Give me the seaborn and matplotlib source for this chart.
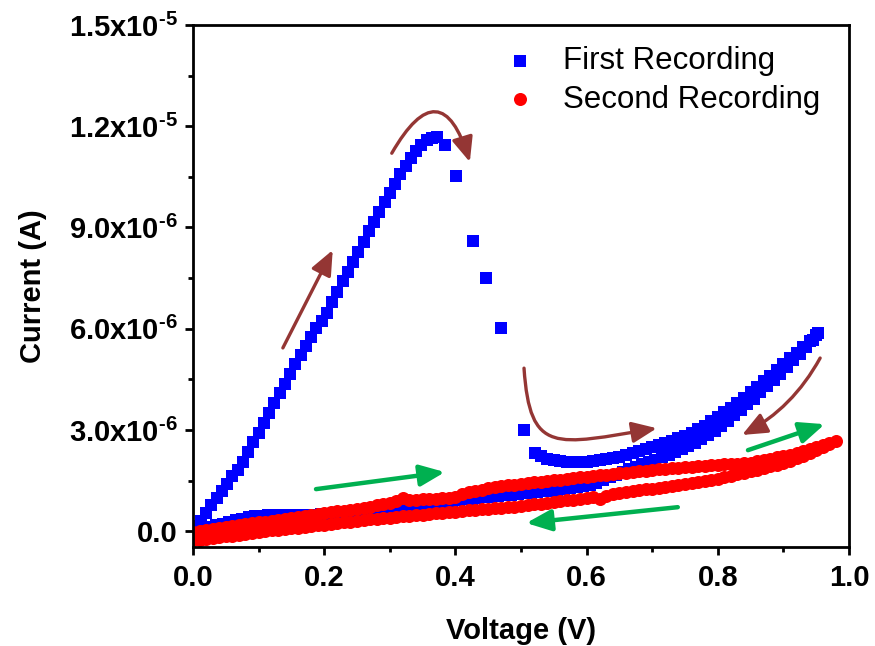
import numpy as np
import matplotlib
matplotlib.use("Agg")
import matplotlib.pyplot as plt
from matplotlib.ticker import MultipleLocator, FuncFormatter
from matplotlib.patches import FancyArrowPatch
from matplotlib.path import Path
import seaborn as sns

# ---------------- data (voltage in V, current in µA) ----------------
# First recording: forward sweep 0 -> 0.953 V, then reverse sweep back to 0 V
first_v = [
    0.004, 0.012, 0.020, 0.028, 0.036, 0.044, 0.052, 0.060, 0.068, 0.076,
    0.084, 0.092, 0.100, 0.108, 0.116, 0.124, 0.132, 0.140, 0.148, 0.156,
    0.164, 0.172, 0.180, 0.188, 0.196, 0.204, 0.212, 0.220, 0.228, 0.236,
    0.244, 0.252, 0.260, 0.268, 0.276, 0.284, 0.292, 0.300, 0.308, 0.316,
    0.324, 0.332, 0.340, 0.348, 0.356, 0.364, 0.372, 0.384, 0.401, 0.427,
    0.447, 0.469, 0.505, 0.521,
    0.530, 0.540, 0.550, 0.560, 0.570, 0.580, 0.590, 0.600, 0.610, 0.620,
    0.630, 0.640, 0.650, 0.660, 0.670, 0.680, 0.690, 0.700, 0.710, 0.720,
    0.730, 0.740, 0.750, 0.760, 0.770, 0.780, 0.790, 0.800, 0.810, 0.820,
    0.830, 0.840, 0.850, 0.860, 0.870, 0.880, 0.890, 0.900, 0.910, 0.920,
    0.930, 0.940, 0.950, 0.953,
    0.945, 0.935, 0.925, 0.915, 0.905, 0.895, 0.885, 0.875, 0.865, 0.855,
    0.845, 0.835, 0.825, 0.815, 0.805, 0.795, 0.785, 0.775, 0.765, 0.755,
    0.745, 0.735, 0.725, 0.715, 0.705, 0.695, 0.685, 0.675, 0.665, 0.655,
    0.645, 0.635, 0.625, 0.615, 0.605, 0.595, 0.585, 0.575, 0.565, 0.555,
    0.545, 0.535, 0.525, 0.515, 0.505, 0.495, 0.485, 0.475, 0.465, 0.455,
    0.445, 0.435, 0.425, 0.415, 0.405, 0.395, 0.385, 0.375, 0.365, 0.355,
    0.345, 0.335, 0.325, 0.315, 0.305, 0.295, 0.285, 0.275, 0.265, 0.255,
    0.245, 0.235, 0.225, 0.215, 0.205, 0.195, 0.185, 0.175, 0.165, 0.155,
    0.145, 0.135, 0.125, 0.115, 0.105, 0.095, 0.085, 0.075, 0.065, 0.055,
    0.045, 0.035, 0.025, 0.015, 0.005,
]
first_i = [
    0.14, 0.30, 0.55, 0.78, 0.97, 1.18, 1.41, 1.62, 1.80, 2.06,
    2.34, 2.63, 2.92, 3.21, 3.50, 3.79, 4.08, 4.37, 4.66, 4.94,
    5.22, 5.48, 5.76, 6.01, 6.24, 6.47, 6.78, 7.10, 7.40, 7.69,
    7.97, 8.27, 8.58, 8.89, 9.17, 9.46, 9.75, 10.03, 10.30, 10.57,
    10.83, 11.07, 11.28, 11.45, 11.58, 11.66, 11.68, 11.44, 10.52, 8.60,
    7.50, 6.02, 3.00, 2.31,
    2.22, 2.15, 2.10, 2.07, 2.05, 2.04, 2.04, 2.05, 2.07, 2.10,
    2.13, 2.17, 2.21, 2.26, 2.31, 2.37, 2.43, 2.49, 2.55, 2.61,
    2.68, 2.75, 2.83, 2.92, 3.02, 3.13, 3.25, 3.38, 3.52, 3.66,
    3.81, 3.96, 4.12, 4.28, 4.44, 4.61, 4.78, 4.95, 5.12, 5.29,
    5.46, 5.63, 5.80, 5.87,
    5.66, 5.46, 5.26, 5.06, 4.86, 4.67, 4.48, 4.29, 4.11, 3.93,
    3.76, 3.59, 3.43, 3.27, 3.12, 2.98, 2.85, 2.73, 2.62, 2.52,
    2.43, 2.34, 2.26, 2.19, 2.12, 2.05, 1.98, 1.91, 1.83, 1.75,
    1.67, 1.59, 1.51, 1.44, 1.38, 1.33, 1.30, 1.27, 1.24, 1.22,
    1.20, 1.18, 1.16, 1.14, 1.12, 1.10, 1.08, 1.06, 1.04, 1.02,
    1.00, 0.98, 0.96, 0.94, 0.92, 0.89, 0.87, 0.85, 0.83, 0.81,
    0.78, 0.76, 0.74, 0.72, 0.70, 0.68, 0.66, 0.64, 0.62, 0.60,
    0.58, 0.56, 0.54, 0.53, 0.51, 0.50, 0.49, 0.48, 0.48, 0.48,
    0.48, 0.48, 0.48, 0.47, 0.46, 0.44, 0.41, 0.37, 0.32, 0.27,
    0.22, 0.17, 0.12, 0.07, 0.02,
]

# Second recording: forward sweep 0 -> 0.98 V, then reverse sweep back to 0 V
second_v = [
    0.00, 0.01, 0.02, 0.03, 0.04, 0.05, 0.06, 0.07, 0.08, 0.09,
    0.10, 0.11, 0.12, 0.13, 0.14, 0.15, 0.16, 0.17, 0.18, 0.19,
    0.20, 0.21, 0.22, 0.23, 0.24, 0.25, 0.26, 0.27, 0.28, 0.29,
    0.30, 0.31, 0.32, 0.33, 0.34, 0.35, 0.36, 0.37, 0.38, 0.39,
    0.40, 0.41, 0.42, 0.43, 0.44, 0.45, 0.46, 0.47, 0.48, 0.49,
    0.50, 0.51, 0.52, 0.53, 0.54, 0.55, 0.56, 0.57, 0.58, 0.59,
    0.60, 0.61, 0.62, 0.63, 0.64, 0.65, 0.66, 0.67, 0.68, 0.69,
    0.70, 0.71, 0.72, 0.73, 0.74, 0.75, 0.76, 0.77, 0.78, 0.79,
    0.80, 0.81, 0.82, 0.83, 0.84, 0.85, 0.86, 0.87, 0.88, 0.89,
    0.90, 0.91, 0.92, 0.93, 0.94, 0.95, 0.96, 0.97, 0.98,
    0.97, 0.96, 0.95, 0.94, 0.93, 0.92, 0.91, 0.90, 0.89, 0.88,
    0.87, 0.86, 0.85, 0.84, 0.83, 0.82, 0.81, 0.80, 0.79, 0.78,
    0.77, 0.76, 0.75, 0.74, 0.73, 0.72, 0.71, 0.70, 0.69, 0.68,
    0.67, 0.66, 0.65, 0.64, 0.63, 0.62, 0.61, 0.60, 0.59, 0.58,
    0.57, 0.56, 0.55, 0.54, 0.53, 0.52, 0.51, 0.50, 0.49, 0.48,
    0.47, 0.46, 0.45, 0.44, 0.43, 0.42, 0.41, 0.40, 0.39, 0.38,
    0.37, 0.36, 0.35, 0.34, 0.33, 0.32, 0.31, 0.30, 0.29, 0.28,
    0.27, 0.26, 0.25, 0.24, 0.23, 0.22, 0.21, 0.20, 0.19, 0.18,
    0.17, 0.16, 0.15, 0.14, 0.13, 0.12, 0.11, 0.10, 0.09, 0.08,
    0.07, 0.06, 0.05, 0.04, 0.03, 0.02, 0.01, 0.00,
]
second_i = [
    -0.02, 0.01, 0.03, 0.06, 0.09, 0.12, 0.14, 0.17, 0.20, 0.23,
    0.26, 0.28, 0.31, 0.34, 0.37, 0.40, 0.42, 0.45, 0.48, 0.50,
    0.53, 0.56, 0.59, 0.61, 0.64, 0.67, 0.70, 0.73, 0.76, 0.80,
    0.84, 0.89, 0.97, 0.93, 0.93, 0.94, 0.95, 0.96, 0.97, 0.99,
    1.02, 1.11, 1.15, 1.19, 1.23, 1.27, 1.30, 1.33, 1.36, 1.38,
    1.41, 1.43, 1.45, 1.47, 1.49, 1.51, 1.53, 1.55, 1.57, 1.59,
    1.61, 1.63, 1.65, 1.67, 1.69, 1.71, 1.73, 1.75, 1.77, 1.79,
    1.81, 1.83, 1.85, 1.86, 1.88, 1.89, 1.91, 1.92, 1.94, 1.95,
    1.96, 1.98, 1.99, 2.00, 2.02, 2.03, 2.07, 2.11, 2.15, 2.19,
    2.23, 2.27, 2.32, 2.37, 2.42, 2.48, 2.54, 2.61, 2.68,
    2.58, 2.48, 2.39, 2.31, 2.23, 2.16, 2.09, 2.03, 1.97, 1.92,
    1.87, 1.82, 1.77, 1.72, 1.68, 1.64, 1.60, 1.56, 1.53, 1.50,
    1.47, 1.44, 1.41, 1.38, 1.35, 1.32, 1.29, 1.26, 1.24, 1.21,
    1.18, 1.15, 1.12, 1.09, 1.05, 0.95, 1.00, 0.98, 0.96, 0.93,
    0.91, 0.88, 0.86, 0.84, 0.81, 0.79, 0.77, 0.75, 0.73, 0.72,
    0.70, 0.69, 0.67, 0.65, 0.63, 0.62, 0.60, 0.58, 0.56, 0.54,
    0.53, 0.51, 0.49, 0.47, 0.45, 0.44, 0.42, 0.40, 0.38, 0.36,
    0.35, 0.33, 0.31, 0.28, 0.26, 0.24, 0.21, 0.19, 0.17, 0.15,
    0.12, 0.10, 0.08, 0.06, 0.04, 0.02, -0.01, -0.03, -0.05, -0.08,
    -0.10, -0.13, -0.15, -0.17, -0.20, -0.22, -0.25, -0.27,
]

x_ticks = [0.0, 0.2, 0.4, 0.6, 0.8, 1.0]
y_ticks = [0.0, 3.0e-6, 6.0e-6, 9.0e-6, 1.2e-5, 1.5e-5]

BLUE = "#0000FF"
RED = "#FF0000"
BROWN = "#943634"
GREEN = "#00B050"

# ---------------- style ----------------
sns.set_style("ticks")
plt.rcParams["font.family"] = ["Liberation Sans", "DejaVu Sans"]
plt.rcParams["mathtext.fontset"] = "custom"
plt.rcParams["mathtext.rm"] = "Liberation Sans:bold"
plt.rcParams["mathtext.it"] = "Liberation Sans:bold"
plt.rcParams["mathtext.bf"] = "Liberation Sans:bold"
for key in ["text.color", "axes.labelcolor", "xtick.color", "ytick.color",
            "axes.edgecolor"]:
    plt.rcParams[key] = "black"

fig = plt.figure(figsize=(8.75, 6.46), dpi=100)
ax = fig.add_axes([193 / 875, 1 - 547 / 646, 656 / 875, 522 / 646])

sns.scatterplot(x=np.array(first_v), y=np.array(first_i) * 1e-6, marker="s",
                s=63, color=BLUE, linewidth=0, label="First Recording", ax=ax)
sns.scatterplot(x=np.array(second_v), y=np.array(second_i) * 1e-6, marker="o",
                s=88, color=RED, linewidth=0, label="Second Recording", ax=ax)

ax.set_xlim(0.0, 1.0)
ax.set_ylim(-0.47e-6, 1.5e-5)
ax.set_xticks(x_ticks)
ax.set_yticks(y_ticks)
ax.xaxis.set_minor_locator(MultipleLocator(0.1))
ax.yaxis.set_minor_locator(MultipleLocator(1.5e-6))


def sci_label(v, pos):
    if abs(v) < 1e-12:
        return "0.0"
    exp = int(np.floor(np.log10(abs(v)) + 1e-9))
    mant = v / 10.0 ** exp
    sign = "\u2010" if exp < 0 else ""
    return f"{mant:.1f}x10$^{{{sign}{abs(exp)}}}$"


ax.xaxis.set_major_formatter(FuncFormatter(lambda v, p: f"{v:.1f}"))
ax.yaxis.set_major_formatter(FuncFormatter(sci_label))

for side in ["left", "right", "top", "bottom"]:
    ax.spines[side].set_visible(True)
    ax.spines[side].set_linewidth(2.0)
    ax.spines[side].set_color("black")

ax.tick_params(axis="both", which="major", direction="out", length=6, width=2.0,
               labelsize=21, color="black", labelcolor="black")
ax.tick_params(axis="both", which="minor", direction="out", length=3.5, width=2.0,
               color="black")
ax.tick_params(axis="x", which="major", pad=6)
ax.tick_params(axis="y", which="major", pad=5)
for lab in ax.get_xticklabels() + ax.get_yticklabels():
    lab.set_fontweight("bold")

ax.set_xlabel("Voltage (V)", fontsize=21, fontweight="bold", labelpad=18,
              color="black")
ax.set_ylabel("Current (A)", fontsize=21, fontweight="bold", labelpad=16,
              color="black")

leg = ax.legend(loc="upper left", bbox_to_anchor=(0.474, 0.96), frameon=False,
                fontsize=22.5, handlelength=1.0, handletextpad=0.9,
                labelspacing=0.28, borderaxespad=0, borderpad=0)
for t in leg.get_texts():
    t.set_color("black")

# ---------------- sweep-direction arrows ----------------
def arrow(tail, head, color, lw, rad=0.0):
    ax.annotate("", xy=(head[0], head[1] * 1e-6), xytext=(tail[0], tail[1] * 1e-6),
                arrowprops=dict(arrowstyle="-|>,head_length=0.75,head_width=0.32",
                                color=color, lw=lw, shrinkA=0, shrinkB=0,
                                mutation_scale=20,
                                connectionstyle=f"arc3,rad={rad}"))


arrow((0.137, 5.43), (0.213, 8.33), BROWN, 2.4)
arrow((0.303, 11.2), (0.422, 10.94), BROWN, 2.4, rad=-1.15)
arrow((0.956, 5.13), (0.837, 2.85), BROWN, 2.4, rad=-0.15)

bend = Path([(0.5046, 4.83e-6), (0.5137, 2.25e-6), (0.552, 2.55e-6), (0.707, 3.05e-6)],
            [Path.MOVETO, Path.CURVE4, Path.CURVE4, Path.CURVE4])
ax.add_patch(FancyArrowPatch(path=bend, transform=ax.transData,
                             arrowstyle="-|>,head_length=0.75,head_width=0.32",
                             mutation_scale=20, color=BROWN, lw=2.4))

arrow((0.1875, 1.245), (0.384, 1.75), GREEN, 3.2)
arrow((0.739, 0.71), (0.508, 0.24), GREEN, 3.2)
arrow((0.846, 2.40), (0.963, 3.17), GREEN, 3.2)

fig.savefig("out.png", dpi=100)
